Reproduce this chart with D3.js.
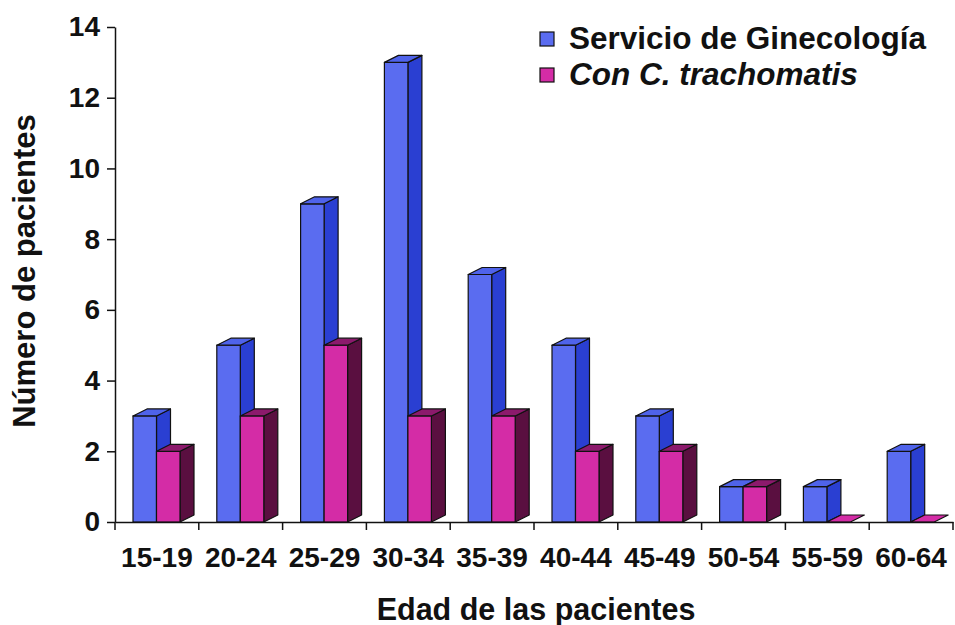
<!DOCTYPE html>
<html>
<head>
<meta charset="utf-8">
<script src="https://cdn.jsdelivr.net/npm/d3@7"></script>
<style>
  html, body { margin: 0; padding: 0; background: #fff; }
  svg { display: block; font-family: "Liberation Sans", Arial, sans-serif; }
</style>
</head>
<body>
<svg id="chart" width="955" height="625"></svg>
<script>
// Age groups and patient counts
const categories = ["15-19", "20-24", "25-29", "30-34", "35-39", "40-44", "45-49", "50-54", "55-59", "60-64"];
const seriesNames = ["Servicio de Ginecología", "Con C. trachomatis"];
const ginecologia = [3, 5, 9, 13, 7, 5, 3, 1, 1, 2];
const trachomatis = [2, 3, 5, 3, 3, 2, 2, 1, 0, 0];
const yTicks = [0, 2, 4, 6, 8, 10, 12, 14];

const seriesValues = [ginecologia, trachomatis];
const palette = [
  { front: "#5a6cf0", side: "#2a3fd2", top: "#4f63ea" },
  { front: "#d42ca6", side: "#5a0f40", top: "#8c1a6c" }
];

const svg = d3.select("#chart");
const plot = { left: 115, right: 953, top: 27, bottom: 522 };
const depth = { dx: 14, dy: -7 };

const x = d3.scaleBand().domain(categories).range([plot.left, plot.right]).padding(0);
const inner = d3.scaleBand().domain(d3.range(seriesNames.length)).range([18, 65]).padding(0);
const y = d3.scaleLinear().domain([0, 14]).range([plot.bottom, plot.top]);

// 3D columns: front face, right side, top
const bars = svg.append("g").attr("class", "bars");
categories.forEach((cat, i) => {
  seriesValues.forEach((vals, s) => {
    const v = vals[i];
    const x0 = x(cat) + inner(s);
    const x1 = x0 + inner.bandwidth();
    const yTop = y(v);
    const yBase = y(0);
    const c = palette[s];
    const g = bars.append("g").attr("stroke", "#111").attr("stroke-width", 1.2).attr("stroke-linejoin", "round");
    if (v > 0) {
      g.append("polygon")
        .attr("points", [[x1, yTop], [x1 + depth.dx, yTop + depth.dy], [x1 + depth.dx, yBase + depth.dy], [x1, yBase]].join(" "))
        .attr("fill", c.side);
      g.append("rect")
        .attr("x", x0).attr("y", yTop)
        .attr("width", x1 - x0).attr("height", yBase - yTop)
        .attr("fill", c.front);
    }
    g.append("polygon")
      .attr("points", [[x0, yTop], [x0 + depth.dx, yTop + depth.dy], [x1 + depth.dx, yTop + depth.dy], [x1, yTop]].join(" "))
      .attr("fill", v > 0 ? c.top : c.front);
  });
});

const labelFont = "Liberation Sans, Arial, sans-serif";

// Y axis
const yAxis = svg.append("g")
  .attr("transform", `translate(${plot.left},0)`)
  .call(d3.axisLeft(y).tickValues(yTicks).tickSize(8).tickSizeOuter(0).tickPadding(7));
yAxis.select(".domain").attr("stroke", "#111").attr("stroke-width", 1.5);
yAxis.selectAll(".tick line").attr("stroke", "#111").attr("stroke-width", 1.5);
yAxis.selectAll(".tick text")
  .attr("font-size", 28).attr("font-weight", "bold").attr("fill", "#111")
  .attr("font-family", labelFont);

// X axis: labels centred on groups, ticks on group boundaries
const xAxis = svg.append("g")
  .attr("transform", `translate(0,${plot.bottom})`)
  .call(d3.axisBottom(x).tickSize(0).tickSizeOuter(0).tickPadding(25));
xAxis.select(".domain").attr("stroke", "#111").attr("stroke-width", 1.5);
xAxis.selectAll(".tick text")
  .attr("font-size", 28).attr("font-weight", "bold").attr("fill", "#111")
  .attr("font-family", labelFont);
const boundaries = categories.map(c => x(c)).concat([x(categories[categories.length - 1]) + x.bandwidth()]);
xAxis.selectAll("line.bound").data(boundaries).join("line")
  .attr("class", "bound")
  .attr("x1", d => d).attr("x2", d => d)
  .attr("y1", 0).attr("y2", 8)
  .attr("stroke", "#111").attr("stroke-width", 1.5);

// Axis titles
svg.append("text")
  .attr("x", 536).attr("y", 620)
  .attr("text-anchor", "middle")
  .attr("font-size", 30.5).attr("font-weight", "bold").attr("fill", "#111")
  .text("Edad de las pacientes");
svg.append("text")
  .attr("transform", "translate(35,271) rotate(-90)")
  .attr("text-anchor", "middle")
  .attr("font-size", 31).attr("font-weight", "bold").attr("fill", "#111")
  .text("Número de pacientes");

// Legend
const legend = svg.append("g").attr("transform", "translate(540,32)");
seriesNames.forEach((name, s) => {
  const row = legend.append("g").attr("transform", `translate(0,${s * 36})`);
  row.append("rect").attr("x", 0).attr("y", 0).attr("width", 14).attr("height", 14)
    .attr("fill", palette[s].front).attr("stroke", "#111").attr("stroke-width", 1.2);
  const t = row.append("text").attr("x", 29).attr("y", 17)
    .attr("font-size", 31.5).attr("font-weight", "bold").attr("fill", "#111");
  if (s === 1) {
    t.attr("font-style", "italic");
  }
  t.text(name);
});
</script>
</body>
</html>
